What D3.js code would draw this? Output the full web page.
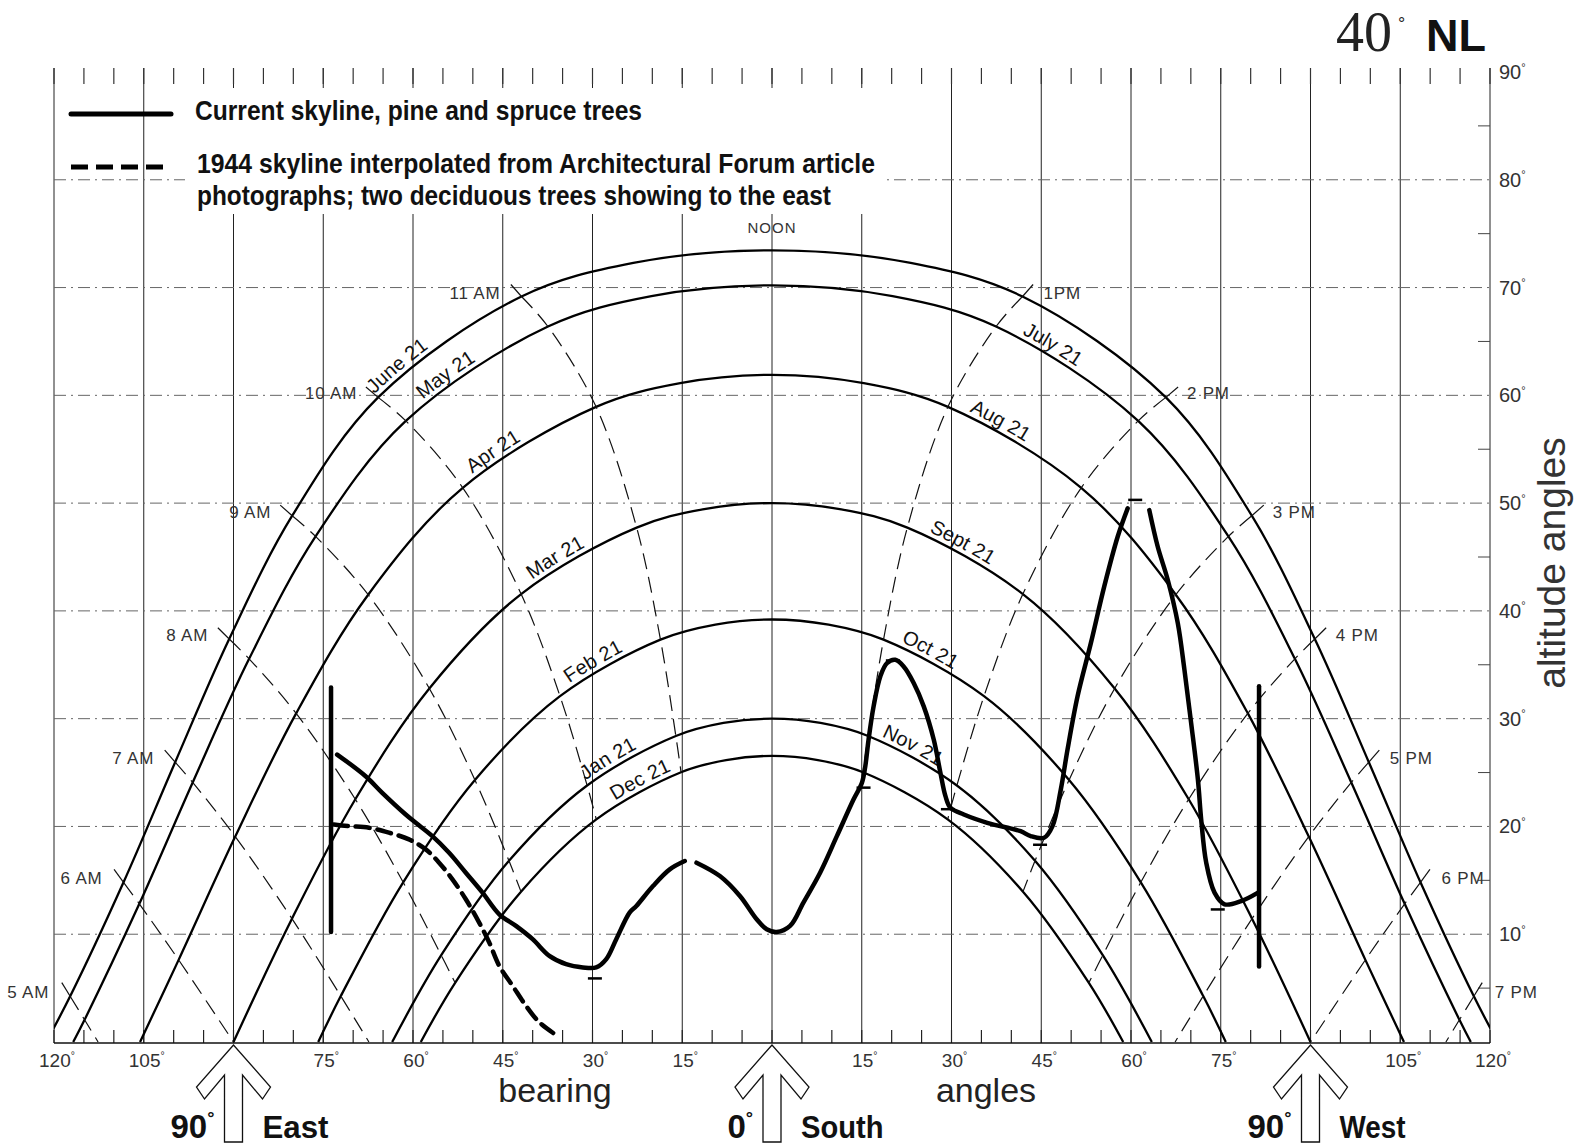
<!DOCTYPE html>
<html>
<head>
<meta charset="utf-8">
<script src="https://cdn.jsdelivr.net/npm/d3@7"></script>
<style>
  html, body { margin: 0; padding: 0; background: #fff; }
  svg { display: block; }
  text { font-family: "Liberation Sans", Arial, sans-serif; fill: #111; }
</style>
</head>
<body>
<svg width="1576" height="1148"></svg>
<script>
// bearing: negative = east of south, positive = west of south; altitude in degrees
const gridBearings = [-120, -105, -90, -75, -60, -45, -30, -15, 0, 15, 30, 45, 60, 75, 90, 105, 120];
const bearingLabels = [-120, -105, -75, -60, -45, -30, -15, 15, 30, 45, 60, 75, 105, 120];
const altitudeGrid = [10, 20, 30, 40, 50, 60, 70, 80];
const altitudeLabels = [10, 20, 30, 40, 50, 60, 70, 80, 90];

// sun paths, 40 deg north latitude, [bearing, altitude]
const sunJun = [[-121.3,0],[-117.3,4.24],[-108.38,14.82],[-99.75,25.96],[-90.72,37.39],[-80.19,48.83],[-65.83,59.81],[-41.87,69.17],[-23.17,72.29],[0,73.45],[23.17,72.29],[41.87,69.17],[65.83,59.81],[80.19,48.83],[90.72,37.39],[99.75,25.96],[108.38,14.82],[117.3,4.24],[121.3,0]];
const sunMayJul = [[-116.79,0],[-114.89,2.06],[-105.74,12.82],[-96.82,24.08],[-87.39,35.55],[-76.28,46.91],[-61.2,57.63],[-37.44,66.38],[-20.15,69.2],[0,70.2],[20.15,69.2],[37.44,66.38],[61.2,57.63],[76.28,46.91],[87.39,35.55],[96.82,24.08],[105.74,12.82],[114.89,2.06],[116.79,0]];
const sunAprAug = [[-105.62,0],[-99.17,7.62],[-89.71,19.06],[-79.53,30.49],[-67.49,41.5],[-51.68,51.42],[-29.4,58.93],[-15.34,61.13],[0,61.9],[15.34,61.13],[29.4,58.93],[51.68,51.42],[67.49,41.5],[79.53,30.49],[89.71,19.06],[99.17,7.62],[105.62,0]];
const sunMarSep = [[-90,0],[-80.23,11.44],[-69.64,22.52],[-57.27,32.8],[-41.93,41.56],[-22.62,47.73],[-11.58,49.42],[0,50],[11.58,49.42],[22.62,47.73],[41.93,41.56],[57.27,32.8],[69.64,22.52],[80.23,11.44],[90,0]];
const sunFebOct = [[-75.84,0],[-72.07,4.26],[-61.64,14.82],[-49.65,24.31],[-35.43,32.09],[-18.64,37.33],[-9.46,38.72],[0,39.2],[9.46,38.72],[18.64,37.33],[35.43,32.09],[49.65,24.31],[61.64,14.82],[72.07,4.26],[75.84,0]];
const sunJanNov = [[-63.48,0],[-55.28,8.05],[-43.96,16.81],[-30.9,23.8],[-16.07,28.39],[-8.11,29.6],[0,30],[8.11,29.6],[16.07,28.39],[30.9,23.8],[43.96,16.81],[55.28,8.05],[63.48,0]];
const sunDec = [[-58.7,0],[-52.96,5.49],[-41.95,13.95],[-29.36,20.66],[-15.2,25.03],[-7.67,26.16],[0,26.55],[7.67,26.16],[15.2,25.03],[29.36,20.66],[41.95,13.95],[52.96,5.49],[58.7,0]];
const sunPaths = [sunJun, sunMayJul, sunAprAug, sunMarSep, sunFebOct, sunJanNov, sunDec];

// [label, curve index, bearing of label centre]
const dateLabels = [
  ["June 21", 0, -61.5], ["May 21", 1, -53.5], ["July 21", 1, 46],
  ["Apr 21", 2, -45.6], ["Aug 21", 2, 37.3],
  ["Mar 21", 3, -35.3], ["Sept 21", 3, 31],
  ["Feb 21", 4, -29], ["Oct 21", 4, 25.6],
  ["Jan 21", 5, -26.5], ["Nov 21", 5, 22.7],
  ["Dec 21", 6, -21.2]
];

// hour lines, from June 21 down to Dec 21 (or the horizon)
const hourNames = ["5 AM", "6 AM", "7 AM", "8 AM", "9 AM", "10 AM", "11 AM", "1PM", "2 PM", "3 PM", "4 PM", "5 PM", "6 PM", "7 PM"];
const hourLines = [
  [[-117.3,4.24],[-114.89,2.06],[-112.63,0]],
  [[-108.38,14.82],[-105.74,12.82],[-99.17,7.62],[-90,0]],
  [[-99.75,25.96],[-96.82,24.08],[-89.71,19.06],[-80.23,11.44],[-72.07,4.26],[-67.37,0]],
  [[-90.72,37.39],[-87.39,35.55],[-79.53,30.49],[-69.64,22.52],[-61.64,14.82],[-55.28,8.05],[-52.96,5.49]],
  [[-80.19,48.83],[-76.28,46.91],[-67.49,41.5],[-57.27,32.8],[-49.65,24.31],[-43.96,16.81],[-41.95,13.95]],
  [[-65.83,59.81],[-61.2,57.63],[-51.68,51.42],[-41.93,41.56],[-35.43,32.09],[-30.9,23.8],[-29.36,20.66]],
  [[-41.87,69.17],[-37.44,66.38],[-29.4,58.93],[-22.62,47.73],[-18.64,37.33],[-16.07,28.39],[-15.2,25.03]],
  [[41.87,69.17],[37.44,66.38],[29.4,58.93],[22.62,47.73],[18.64,37.33],[16.07,28.39],[15.2,25.03]],
  [[65.83,59.81],[61.2,57.63],[51.68,51.42],[41.93,41.56],[35.43,32.09],[30.9,23.8],[29.36,20.66]],
  [[80.19,48.83],[76.28,46.91],[67.49,41.5],[57.27,32.8],[49.65,24.31],[43.96,16.81],[41.95,13.95]],
  [[90.72,37.39],[87.39,35.55],[79.53,30.49],[69.64,22.52],[61.64,14.82],[55.28,8.05],[52.96,5.49]],
  [[99.75,25.96],[96.82,24.08],[89.71,19.06],[80.23,11.44],[72.07,4.26],[67.37,0]],
  [[108.38,14.82],[105.74,12.82],[99.17,7.62],[90,0]],
  [[117.3,4.24],[114.89,2.06],[112.63,0]]
];

// current skyline (pine and spruce), drawn in three strokes
const skylineNow = [
  [[-72.68,26.67],[-67.92,24.66],[-65.14,23.12],[-61.22,21.11],[-59.54,20.34],[-56.76,19.1],[-53.97,17.56],[-51.17,15.71],[-48.38,13.86],[-45.58,11.85],[-42.79,10.77],[-40.01,9.54],[-37.21,7.99],[-34.41,7.22],[-31.62,6.92],[-29.38,6.92],[-27.7,7.69],[-26.03,9.54],[-23.8,12.01],[-22.67,12.62],[-19.89,14.47],[-17.09,16.02],[-14.58,16.79]],
  [[-12.62,16.64],[-8.71,15.4],[-5.36,13.55],[-2.56,11.39],[-0.89,10.46],[0.79,10.21],[3.02,10.77],[5.25,12.94],[8.04,15.71],[10.84,19.1],[13.62,22.5],[15.03,24.05],[15.59,25.58],[16.14,28.06],[16.98,31.14],[18.1,33.92],[19.22,35.16],[20.61,35.46],[22.0,34.84],[23.68,33.31],[25.36,31.14],[27.03,28.06],[28.15,24.97],[28.99,22.81],[29.83,21.73],[32.06,21.11],[35.98,20.34],[41.56,19.56],[43.24,19.1],[45.47,18.95],[46.88,20.03],[48.27,23.43],[49.39,27.13],[51.06,32.06],[53.29,37.01],[55.52,42.25],[57.77,46.88],[59.44,49.51]],
  [[63.06,49.35],[64.47,45.95],[66.15,42.87],[67.82,38.86],[68.93,34.54],[70.05,29.6],[71.18,24.35],[71.73,20.65],[72.57,16.64],[73.96,13.86],[75.64,12.78],[78.43,13.08],[81.23,13.86]]
];
// 1944 skyline from the Architectural Forum photographs
const skyline1944 = [[-73.24,20.19],[-70.72,20.03],[-67.37,19.88],[-64.02,19.42],[-60.67,18.8],[-57.87,17.87],[-55.64,16.64],[-53.41,15.09],[-51.17,13.24],[-48.94,11.08],[-47.26,9.23],[-45.58,7.06],[-43.35,5.21],[-41.12,3.36],[-38.88,1.82],[-35.53,0.44]];
// tree trunks: [bearing, bottom altitude, top altitude]
const trunks = [[-73.7, 10.2, 32.9], [81.4, 7.0, 33.0]];
// small hand marks on the skyline
const handMarks = [[-29.6, 5.9], [15.3, 23.6], [20.2, 35.4], [29.4, 21.6], [44.8, 18.3], [60.7, 50.3], [74.5, 12.3]];

const compass = [[-90, "90", "East"], [0, "0", "South"], [90, "90", "West"]];

const svg = d3.select("svg");
svg.append("rect").attr("width", 1576).attr("height", 1148).attr("fill", "#fff");

const x = d3.scaleLinear().domain([-120, 120]).range([54, 1490]);
const y = d3.scaleLinear().domain([0, 90]).range([1042, 72]);
const yTop = 68, yBase = 1043;

const line = d3.line()
  .x(d => x(d[0]))
  .y(d => y(d[1]))
  .curve(d3.curveCatmullRom.alpha(0.5));

svg.append("defs").append("clipPath").attr("id", "plot")
  .append("rect")
  .attr("x", x(-120)).attr("y", yTop)
  .attr("width", x(120) - x(-120)).attr("height", yBase - yTop);

// grid
const grid = svg.append("g");
grid.selectAll("line.v").data(gridBearings).join("line")
  .attr("class", "v")
  .attr("x1", d => x(d)).attr("x2", d => x(d))
  .attr("y1", yTop).attr("y2", yBase)
  .attr("stroke", "#222").attr("stroke-width", 1);

grid.selectAll("line.h").data(altitudeGrid).join("line")
  .attr("class", "h")
  .attr("x1", x(-120)).attr("x2", x(120))
  .attr("y1", d => y(d)).attr("y2", d => y(d))
  .attr("stroke", "#666").attr("stroke-width", 1)
  .attr("stroke-dasharray", "12,5,2,5");

grid.selectAll("line.tt").data(x.ticks(48)).join("line")
  .attr("class", "tt")
  .attr("x1", d => x(d)).attr("x2", d => x(d))
  .attr("y1", yTop).attr("y2", yTop + 16)
  .attr("stroke", "#333").attr("stroke-width", 1.2);

grid.selectAll("line.bt").data(x.ticks(48)).join("line")
  .attr("class", "bt")
  .attr("x1", d => x(d)).attr("x2", d => x(d))
  .attr("y1", yBase - 13).attr("y2", yBase)
  .attr("stroke", "#222").attr("stroke-width", 1.2);

grid.selectAll("line.rt").data(y.ticks(18).filter(d => d % 10 !== 0)).join("line")
  .attr("class", "rt")
  .attr("x1", x(120) - 12).attr("x2", x(120))
  .attr("y1", d => y(d)).attr("y2", d => y(d))
  .attr("stroke", "#444").attr("stroke-width", 1);

grid.append("line")
  .attr("x1", x(-120)).attr("x2", x(120))
  .attr("y1", yBase).attr("y2", yBase)
  .attr("stroke", "#111").attr("stroke-width", 1.6);

// white box behind the legend
svg.append("rect").attr("x", 185).attr("y", 88).attr("width", 700).attr("height", 126).attr("fill", "#fff");

// degree label helper
function degText(g, value, size) {
  g.append("tspan").text(value);
  g.append("tspan").text("°")
    .attr("font-size", size * 0.55).attr("dy", -size * 0.42);
}

// altitude labels
svg.selectAll("text.alt").data(altitudeLabels).join("text")
  .attr("class", "alt")
  .attr("x", x(120) + 9).attr("y", d => y(d) + 7)
  .attr("font-size", 20).style("fill", "#333")
  .each(function(d) { degText(d3.select(this), d, 20); });

// bearing labels
svg.selectAll("text.brg").data(bearingLabels).join("text")
  .attr("class", "brg")
  .attr("x", d => x(d) + 3).attr("y", 1067)
  .attr("text-anchor", "middle")
  .attr("font-size", 19).style("fill", "#333")
  .each(function(d) { degText(d3.select(this), Math.abs(d), 19); });

svg.append("text").attr("x", 555).attr("y", 1102).attr("text-anchor", "middle")
  .attr("font-size", 34).style("fill", "#222").text("bearing");
svg.append("text").attr("x", 986).attr("y", 1102).attr("text-anchor", "middle")
  .attr("font-size", 34).style("fill", "#222").text("angles");
svg.append("text")
  .attr("transform", "translate(1565,563) rotate(-90)")
  .attr("text-anchor", "middle")
  .attr("font-size", 39).style("fill", "#333").text("altitude angles");

// compass arrows
compass.forEach(([b, deg, name]) => {
  const cx = x(b), t = yBase + 2;
  const pts = [[cx, t], [cx - 37, t + 42], [cx - 29, t + 54], [cx - 9, t + 30], [cx - 9, t + 97],
               [cx + 9, t + 97], [cx + 9, t + 30], [cx + 29, t + 54], [cx + 37, t + 42]];
  svg.append("path").attr("d", d3.line()(pts) + "Z")
    .attr("fill", "#fff").attr("stroke", "#111").attr("stroke-width", 1.3);
  const lab = svg.append("text").attr("x", cx - 19).attr("y", 1138)
    .attr("text-anchor", "end").attr("font-size", 33).attr("font-weight", "bold");
  degText(lab, deg, 33);
  svg.append("text").attr("x", cx + 29).attr("y", 1138)
    .attr("font-size", 32).attr("font-weight", "bold")
    .attr("textLength", name.length * 16.5).attr("lengthAdjust", "spacingAndGlyphs")
    .text(name);
});

// sun paths
const plot = svg.append("g").attr("clip-path", "url(#plot)");
plot.selectAll("path.sun").data(sunPaths).join("path")
  .attr("class", "sun")
  .attr("id", (d, i) => "sun-" + i)
  .attr("d", line)
  .attr("fill", "none").attr("stroke", "#000").attr("stroke-width", 2.3);

// hour lines
plot.selectAll("path.hour").data(hourLines).join("path")
  .attr("class", "hour")
  .attr("d", line)
  .attr("fill", "none").attr("stroke", "#111").attr("stroke-width", 1.2)
  .attr("stroke-dasharray", "16,8");

hourLines.forEach((pts, i) => {
  const p0 = [x(pts[0][0]), y(pts[0][1])];
  const p1 = [x(pts[1][0]), y(pts[1][1])];
  const dx = p0[0] - p1[0], dy = p0[1] - p1[1];
  const len = Math.hypot(dx, dy);
  const ex = [p0[0] + dx / len * 16, p0[1] + dy / len * 16];
  svg.append("line")
    .attr("x1", p0[0]).attr("y1", p0[1]).attr("x2", ex[0]).attr("y2", ex[1])
    .attr("stroke", "#111").attr("stroke-width", 1.2);
  const am = pts[0][0] < 0;
  svg.append("text")
    .attr("x", am ? p0[0] - 21 : p0[0] + 21)
    .attr("y", p0[1] + 2)
    .attr("text-anchor", am ? "end" : "start")
    .attr("font-size", 17).attr("letter-spacing", 0.8)
    .style("fill", "#333")
    .text(hourNames[i]);
});

// date labels along the curves
dateLabels.forEach(([name, ci, b]) => {
  const node = d3.select("#sun-" + ci).node();
  const total = node.getTotalLength();
  const target = x(b);
  let lo = 0, hi = total;
  for (let k = 0; k < 40; k++) {
    const mid = (lo + hi) / 2;
    if (node.getPointAtLength(mid).x < target) lo = mid; else hi = mid;
  }
  svg.append("text")
    .attr("font-size", 20).attr("dy", -5)
    .style("fill", "#111")
    .append("textPath")
    .attr("href", "#sun-" + ci)
    .attr("startOffset", lo)
    .attr("text-anchor", "middle")
    .text(name);
});

svg.append("text").attr("x", x(0)).attr("y", 233).attr("text-anchor", "middle")
  .attr("font-size", 15).attr("letter-spacing", 1).style("fill", "#333").text("NOON");

// skylines
const sky = svg.append("g").attr("clip-path", "url(#plot)");
sky.selectAll("path.now").data(skylineNow).join("path")
  .attr("class", "now")
  .attr("d", line)
  .attr("fill", "none").attr("stroke", "#000").attr("stroke-width", 4.5)
  .attr("stroke-linecap", "round").attr("stroke-linejoin", "round");

sky.append("path").datum(skyline1944)
  .attr("d", line)
  .attr("fill", "none").attr("stroke", "#000").attr("stroke-width", 4.5)
  .attr("stroke-dasharray", "14,8").attr("stroke-linecap", "round");

sky.selectAll("line.trunk").data(trunks).join("line")
  .attr("class", "trunk")
  .attr("x1", d => x(d[0])).attr("x2", d => x(d[0]))
  .attr("y1", d => y(d[1])).attr("y2", d => y(d[2]))
  .attr("stroke", "#000").attr("stroke-width", 4.5).attr("stroke-linecap", "round");

sky.selectAll("line.mark").data(handMarks).join("line")
  .attr("class", "mark")
  .attr("x1", d => x(d[0]) - 7).attr("x2", d => x(d[0]) + 7)
  .attr("y1", d => y(d[1])).attr("y2", d => y(d[1]))
  .attr("stroke", "#000").attr("stroke-width", 2.5);

// legend
svg.append("line").attr("x1", 71).attr("x2", 171).attr("y1", 114).attr("y2", 114)
  .attr("stroke", "#000").attr("stroke-width", 5).attr("stroke-linecap", "round");
svg.append("line").attr("x1", 71).attr("x2", 171).attr("y1", 167).attr("y2", 167)
  .attr("stroke", "#000").attr("stroke-width", 5).attr("stroke-dasharray", "17,8");
svg.append("text").attr("x", 195).attr("y", 120).attr("font-size", 27).attr("font-weight", "bold")
  .attr("textLength", 447).attr("lengthAdjust", "spacingAndGlyphs")
  .text("Current skyline, pine and spruce trees");
svg.append("text").attr("x", 197).attr("y", 173).attr("font-size", 27).attr("font-weight", "bold")
  .attr("textLength", 678).attr("lengthAdjust", "spacingAndGlyphs")
  .text("1944 skyline interpolated from Architectural Forum article");
svg.append("text").attr("x", 197).attr("y", 205).attr("font-size", 27).attr("font-weight", "bold")
  .attr("textLength", 634).attr("lengthAdjust", "spacingAndGlyphs")
  .text("photographs; two deciduous trees showing to the east");

// title
svg.append("text").attr("x", 1336).attr("y", 51)
  .style("font-family", "'Liberation Serif', serif").attr("font-size", 56)
  .style("fill", "#222").text("40");
svg.append("text").attr("x", 1398).attr("y", 30)
  .attr("font-size", 18).style("fill", "#222").text("°");
svg.append("text").attr("x", 1426).attr("y", 51)
  .attr("font-size", 45).attr("font-weight", "bold").text("NL");
</script>
</body>
</html>
